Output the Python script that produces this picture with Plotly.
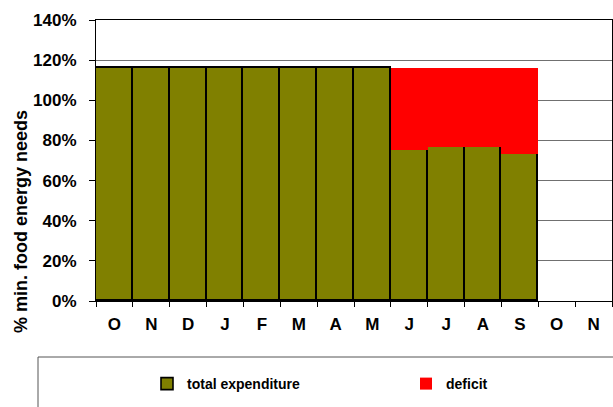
import plotly.graph_objects as go

months = ["O", "N", "D", "J", "F", "M", "A", "M", "J", "J", "A", "S", "O", "N"]
total_expenditure = [116, 116, 116, 116, 116, 116, 116, 116, 75.2, 76.6, 76.6, 73.4, None, None]
deficit = [0, 0, 0, 0, 0, 0, 0, 0, 40.8, 39.4, 39.4, 42.6, None, None]
y_ticks = [0, 20, 40, 60, 80, 100, 120, 140]
y_tick_labels = [f"{v}%" for v in y_ticks]
y_title = "% min. food energy needs"

x = list(range(len(months)))
FONT = "Liberation Sans, Arial, sans-serif"

W, H = 613, 407
L, R, T, B = 96, 1, 20, 106
pw = W - L - R
ph = H - T - B

def px_x(p):
    return (p - L) / pw

def px_y(p):
    return (H - B - p) / ph

fig = go.Figure()
fig.add_trace(go.Bar(
    x=x, y=total_expenditure, name="total expenditure", legend="legend",
    marker=dict(color="#808000", line=dict(color="#000000", width=1.6)),
))
fig.add_trace(go.Bar(
    x=x, y=deficit, name="deficit", legend="legend2",
    marker=dict(color="#FF0000", line=dict(color="#FF0000", width=0)),
))

leg_common = dict(
    orientation="h", xanchor="left", yanchor="middle",
    font=dict(family=FONT, size=14, weight="bold"),
    bgcolor="rgba(0,0,0,0)", borderwidth=0,
    itemwidth=30,
)

fig.update_layout(
    width=W, height=H,
    margin=dict(l=L, r=R, t=T, b=B, autoexpand=False),
    barmode="stack", bargap=0,
    paper_bgcolor="white", plot_bgcolor="white",
    font=dict(family=FONT, color="#000000"),
    showlegend=True,
    legend=dict(x=px_x(147), y=px_y(384), **leg_common),
    legend2=dict(x=px_x(406), y=px_y(384), **leg_common),
    shapes=[dict(
        type="rect", xref="paper", yref="paper",
        x0=px_x(38), x1=px_x(640), y0=px_y(357), y1=px_y(430),
        line=dict(color="#555555", width=1), fillcolor="rgba(0,0,0,0)",
        layer="above",
    )],
    annotations=[dict(
        text=y_title, textangle=-90, xref="paper", yref="paper",
        x=px_x(21), y=px_y(222), xanchor="center", yanchor="middle",
        showarrow=False, font=dict(family=FONT, size=18, weight="bold"),
    )],
)

fig.update_xaxes(
    range=[-0.5, len(months) - 0.5],
    tickvals=x, ticktext=months,
    ticks="", showgrid=False, zeroline=False, automargin=False,
    showline=True, linecolor="#000000", linewidth=1, mirror=True,
    tickfont=dict(family=FONT, size=17, weight="bold"),
    ticklabelstandoff=8,
    minor=dict(tickvals=[i - 0.5 for i in range(len(months) + 1)],
               ticks="outside", ticklen=5, tickcolor="#000000", tickwidth=1,
               showgrid=False),
)
fig.update_yaxes(
    range=[0, 140],
    tickvals=y_ticks, ticktext=y_tick_labels,
    ticks="outside", ticklen=6, tickcolor="#000000",
    showgrid=True, gridcolor="#707070", gridwidth=1,
    zeroline=False, automargin=False,
    showline=True, linecolor="#000000", linewidth=1, mirror=True,
    tickfont=dict(family=FONT, size=17, weight="bold"),
    ticklabelstandoff=9,
)

fig.write_html(
    "out.html",
    config={"displayModeBar": False},
    post_script="document.body.style.margin='0';document.body.style.overflow='hidden';",
)
